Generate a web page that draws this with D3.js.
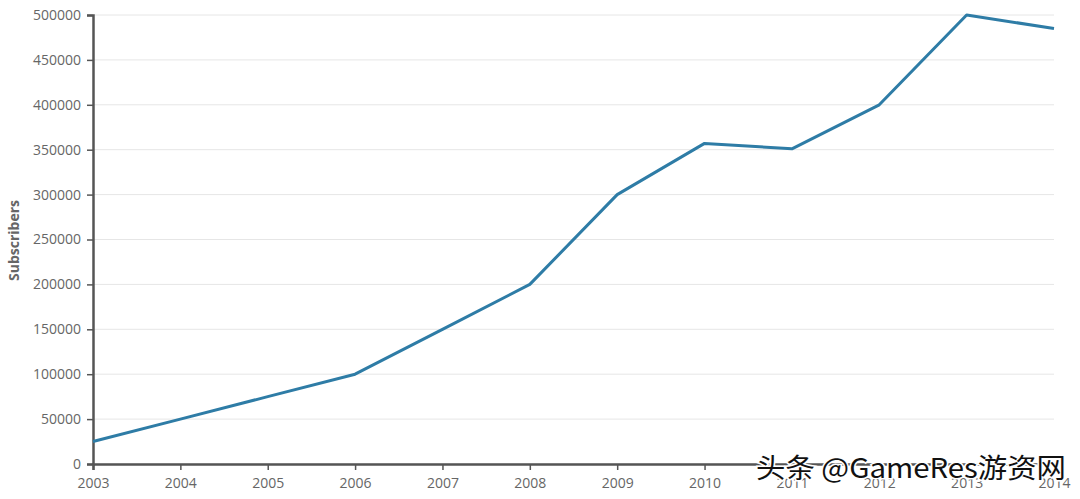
<!DOCTYPE html>
<html>
<head>
<meta charset="utf-8">
<script src="https://cdn.jsdelivr.net/npm/d3@7"></script>
<style>
  body { margin: 0; background: #fff; }
  svg { display: block; }
  .tick text { font-family: "Open Sans", sans-serif; font-size: 14px; fill: #666; }
</style>
</head>
<body>
<svg id="chart" width="1080" height="499"></svg>
<script>
var years = [2003, 2004, 2005, 2006, 2007, 2008, 2009, 2010, 2011, 2012, 2013, 2014];
var subscribers = [25000, 50000, 75000, 100000, 150000, 200000, 300000, 357000, 351000, 400000, 500000, 485000];
var yTicks = [0, 50000, 100000, 150000, 200000, 250000, 300000, 350000, 400000, 450000, 500000];

var width = 1080, height = 499;
var margin = {left: 93, right: 26, top: 15, bottom: 35};

var svg = d3.select("#chart");

var x = d3.scaleLinear()
    .domain([2003, 2014])
    .range([margin.left, width - margin.right]);

var y = d3.scaleLinear()
    .domain([0, 500000])
    .range([height - margin.bottom, margin.top]);

// grid
svg.append("g")
  .selectAll("line")
  .data(yTicks)
  .enter().append("line")
    .attr("x1", margin.left)
    .attr("x2", width - margin.right)
    .attr("y1", d => y(d))
    .attr("y2", d => y(d))
    .style("stroke", "#e6e6e6")
    .style("stroke-width", 1);

var yAxis = svg.append("g")
    .attr("transform", "translate(" + margin.left + ",0)")
    .call(d3.axisLeft(y).tickValues(yTicks).tickSize(6).tickPadding(6).tickFormat(d3.format("d")));

var xAxis = svg.append("g")
    .attr("transform", "translate(0," + (height - margin.bottom) + ")")
    .call(d3.axisBottom(x).tickValues(years).tickSize(6).tickPadding(8).tickFormat(d3.format("d")));

[yAxis, xAxis].forEach(a => {
  a.select(".domain").style("stroke", "#555").style("stroke-width", 2.5);
  a.selectAll(".tick line").style("stroke", "#555").style("stroke-width", 1.5);
});

svg.append("text")
    .attr("transform", "translate(19," + ((margin.top + height - margin.bottom) / 2 + 1) + ") rotate(-90)")
    .attr("text-anchor", "middle")
    .style("font-family", "'Open Sans', sans-serif")
    .style("font-size", "14px")
    .style("font-weight", "bold")
    .style("fill", "#666")
    .text("Subscribers");

var line = d3.line()
    .x((d, i) => x(years[i]))
    .y(d => y(d));

svg.append("path")
    .datum(subscribers)
    .attr("d", line)
    .style("fill", "none")
    .style("stroke", "#2e7ca6")
    .style("stroke-width", 3)
    .style("stroke-linejoin", "round");

// watermark
svg.append("text")
    .attr("x", 756)
    .attr("y", 478)
    .attr("textLength", 310)
    .attr("lengthAdjust", "spacingAndGlyphs")
    .style("font-family", "'Noto Sans CJK SC', sans-serif")
    .style("font-size", "27px")
    .style("fill", "#111")
    .style("stroke", "#fff")
    .style("stroke-width", 3)
    .style("paint-order", "stroke")
    .text("头条 @GameRes游资网");
</script>
</body>
</html>
